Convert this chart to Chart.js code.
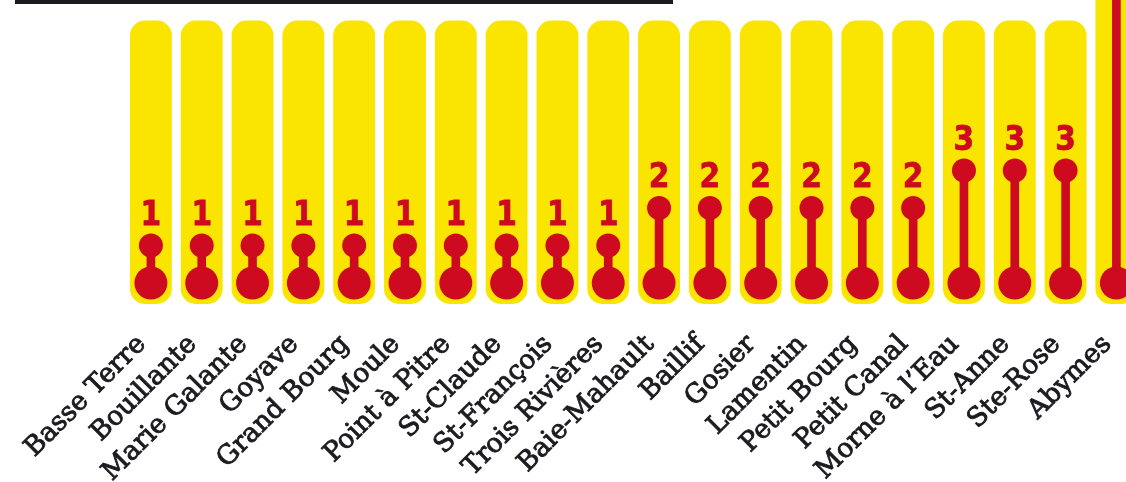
<!DOCTYPE html>
<html>
<head>
<meta charset="utf-8">
<script src="https://cdn.jsdelivr.net/npm/chart.js@4"></script>
<style>
  html, body { margin: 0; padding: 0; background: #fff; overflow: hidden; }
  body { width: 1126px; height: 482px; position: relative; }
  #topRule { position: absolute; left: 15px; top: 0; width: 658px; height: 4px; background: #1b1a1f; }
  #chart { position: absolute; left: 0; top: 0; }
</style>
</head>
<body>
<div id="topRule"></div>
<canvas id="chart" width="1150" height="482"></canvas>
<script>
const communes = ["Basse Terre", "Bouillante", "Marie Galante", "Goyave", "Grand Bourg", "Moule",
  "Point à Pitre", "St-Claude", "St-François", "Trois Rivières", "Baie-Mahault", "Baillif",
  "Gosier", "Lamentin", "Petit Bourg", "Petit Canal", "Morne à l’Eau", "St-Anne", "Ste-Rose", "Abymes"];
const counts = [1, 1, 1, 1, 1, 1, 1, 1, 1, 1, 2, 2, 2, 2, 2, 2, 3, 3, 3, 8];

const YELLOW = "#f9e500";
const RED = "#cd0a1f";
const BG_BOTTOM = -0.56;
const BG_TOP = 7;

// value labels above the small circle (slightly condensed bold digits)
const valueLabels = {
  id: "valueLabels",
  afterDatasetsDraw(chart) {
    const meta = chart.getDatasetMeta(3);
    const ctx = chart.ctx;
    meta.data.forEach((pt, i) => {
      ctx.save();
      ctx.translate(pt.x, pt.y - 29.5);
      ctx.scale(0.9, 1);
      ctx.fillStyle = RED;
      ctx.strokeStyle = RED;
      ctx.lineWidth = 0.8;
      ctx.font = "bold 33px 'DejaVu Sans'";
      ctx.textAlign = "center";
      ctx.textBaseline = "middle";
      ctx.fillText(String(counts[i]), 0, 0);
      ctx.strokeText(String(counts[i]), 0, 0);
      ctx.restore();
    });
  }
};

new Chart(document.getElementById("chart"), {
  type: "bar",
  data: {
    labels: communes,
    datasets: [
      {
        // yellow tube behind each lollipop
        data: counts.map(v => [BG_BOTTOM, Math.max(BG_TOP, v + 1)]),
        backgroundColor: YELLOW,
        borderRadius: 15,
        borderSkipped: false,
        barPercentage: 1,
        categoryPercentage: 0.824,
        grouped: false,
        order: 4
      },
      {
        // stem
        data: counts.map(v => [0, v]),
        backgroundColor: RED,
        barThickness: 8,
        grouped: false,
        order: 3
      },
      {
        type: "line",
        data: counts.map(() => 0),
        showLine: false,
        pointRadius: 16.5,
        pointBackgroundColor: RED,
        pointBorderWidth: 0,
        order: 2
      },
      {
        type: "line",
        data: counts,
        showLine: false,
        pointRadius: 12,
        pointBackgroundColor: RED,
        pointBorderWidth: 0,
        order: 1
      }
    ]
  },
  options: {
    responsive: false,
    animation: false,
    layout: { padding: { left: 125.5, right: 4.5, top: 0, bottom: 0 }, autoPadding: false },
    plugins: { legend: { display: false }, tooltip: { enabled: false } },
    scales: {
      x: {
        offset: true,
        grid: { display: false },
        border: { display: false },
        ticks: {
          autoSkip: false,
          minRotation: 45,
          maxRotation: 45,
          padding: 11,
          labelOffset: -9,
          color: "#1b1a1f",
          textStrokeColor: "#1b1a1f",
          textStrokeWidth: 0.9,
          font: { family: "'DejaVu Serif'", size: 26.5 }
        },
        afterFit: s => { s.height = 172; }
      },
      y: {
        display: false,
        min: -0.72,
        max: 7.547
      }
    }
  },
  plugins: [valueLabels]
});
</script>
</body>
</html>
